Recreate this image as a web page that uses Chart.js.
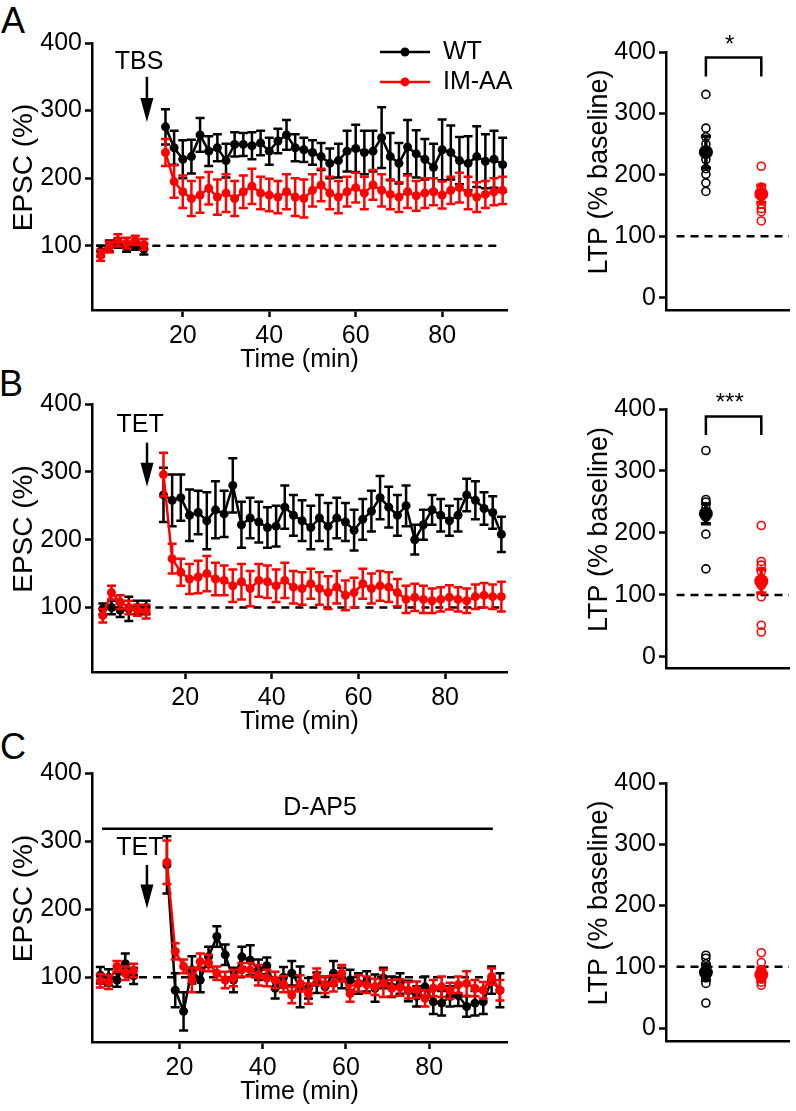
<!DOCTYPE html>
<html>
<head>
<meta charset="utf-8">
<title>EPSC / LTP</title>
<script src="https://cdn.jsdelivr.net/npm/chart.js@4.4.1/dist/chart.umd.min.js"></script>
<style>
  html, body { margin: 0; padding: 0; background: #fff; }
  body { position: relative; width: 796px; height: 1111px; overflow: hidden; }
  canvas { position: absolute; }
  .tag { position: absolute; font: 36px/1 "Liberation Sans", Arial, sans-serif; color: #000; }
</style>
</head>
<body>
<div class="tag" style="left:1px;top:3px">A</div>
<div class="tag" style="left:-1px;top:366px">B</div>
<div class="tag" style="left:0px;top:729px">C</div>
<canvas id="aTime"></canvas>
<canvas id="aLtp"></canvas>
<canvas id="bTime"></canvas>
<canvas id="bLtp"></canvas>
<canvas id="cTime"></canvas>
<canvas id="cLtp"></canvas>
<script>
// ---- values ----
const timeTicks = [20, 40, 60, 80];
const epscTicks = [100, 200, 300, 400];
const ltpTicks = [0, 100, 200, 300, 400];

// A - TBS
const timeA_base = [1, 3, 5, 7, 9, 11];
const timeA_post = [16, 18, 20, 22, 24, 26, 28, 30, 32, 34, 36, 38, 40, 42, 44, 46, 48, 50, 52, 54,
  56, 58, 60, 62, 64, 66, 68, 70, 72, 74, 76, 78, 80, 82, 84, 86, 88, 90, 92, 94];
const wtA_base = [92, 100, 104, 98, 100, 95];
const wtA_baseSem = [8, 8, 7, 7, 6, 8];
const imA_base = [86, 98, 108, 104, 108, 102];
const imA_baseSem = [8, 8, 9, 8, 7, 8];
const wtA_post = [276, 245, 228, 232, 264, 240, 245, 226, 250, 250, 248, 252, 240, 255, 264, 245, 242, 238, 232, 222,
  226, 240, 244, 238, 240, 260, 232, 222, 246, 236, 228, 216, 242, 238, 226, 222, 232, 225, 228, 220];
const wtA_postSem = [26, 25, 28, 25, 25, 22, 20, 25, 18, 17, 20, 18, 20, 18, 22, 20, 18, 18, 20, 22,
  25, 30, 35, 32, 30, 45, 35, 30, 40, 35, 30, 35, 45, 40, 35, 40, 45, 40, 42, 40];
const imA_post = [238, 195, 180, 170, 175, 185, 172, 178, 170, 180, 188, 178, 175, 172, 180, 172, 170, 182, 190, 178,
  172, 180, 186, 178, 190, 182, 176, 172, 180, 174, 178, 180, 175, 182, 186, 178, 172, 176, 180, 182];
const imA_postSem = [20, 24, 24, 26, 26, 24, 26, 28, 26, 24, 26, 24, 24, 24, 26, 28, 28, 24, 24, 24,
  24, 22, 22, 24, 22, 24, 22, 22, 24, 22, 22, 20, 20, 20, 22, 24, 22, 20, 20, 20];
const wtLtpA = [331, 276, 262, 250, 225, 210, 201, 187, 173];
const imLtpA = [214, 180, 172, 165, 152, 145, 140, 125];
const ltpMeanA = [237, 169];
const ltpSemA = [26, 14];

// B - TET
const timeB_base = [1, 3, 5, 7, 9, 11];
const timeB_post = [15, 17, 19, 21, 23, 25, 27, 29, 31, 33, 35, 37, 39, 41, 43, 45, 47, 49, 51, 53,
  55, 57, 59, 61, 63, 65, 67, 69, 71, 73, 75, 77, 79, 81, 83, 85, 87, 89, 91, 93];
const wtB_base = [98, 100, 96, 98, 100, 100];
const wtB_baseSem = [8, 10, 10, 18, 10, 10];
const imB_base = [88, 122, 108, 100, 96, 94];
const imB_baseSem = [10, 10, 10, 10, 8, 10];
const wtB_post = [266, 258, 262, 236, 240, 228, 244, 238, 280, 222, 232, 226, 218, 220, 248, 236, 228, 218, 232, 220,
  232, 226, 214, 230, 242, 262, 248, 236, 250, 200, 222, 244, 236, 228, 236, 266, 258, 246, 240, 208];
const wtB_postSem = [40, 38, 34, 38, 32, 42, 42, 34, 40, 34, 30, 30, 30, 30, 32, 30, 30, 32, 34, 34,
  30, 28, 30, 30, 30, 32, 30, 30, 30, 22, 22, 22, 24, 22, 24, 24, 28, 24, 24, 26];
const imB_post = [296, 172, 152, 142, 145, 150, 142, 140, 132, 138, 128, 140, 138, 132, 140, 130, 128, 135, 128, 122,
  130, 118, 122, 135, 128, 132, 130, 122, 112, 115, 112, 110, 112, 115, 112, 110, 116, 118, 116, 116];
const imB_postSem = [32, 22, 20, 22, 24, 26, 24, 22, 24, 26, 26, 24, 24, 24, 26, 24, 24, 22, 24, 24,
  24, 22, 22, 22, 22, 22, 22, 20, 20, 20, 20, 18, 18, 18, 18, 18, 18, 18, 18, 22];
const wtLtpB = [333, 254, 250, 240, 230, 225, 198, 142];
const imLtpB = [212, 154, 148, 138, 126, 115, 97, 51, 40];
const ltpMeanB = [231, 122];
const ltpSemB = [16, 19];

// C - TET in D-AP5
const timeC_base = [1, 3, 5, 7, 9];
const timeC_post = [17, 19, 21, 23, 25, 27, 29, 31, 33, 35, 37, 39, 41, 43, 45, 47, 49, 51, 53, 55,
  57, 59, 61, 63, 65, 67, 69, 71, 73, 75, 77, 79, 81, 83, 85, 87, 89, 91, 93, 95, 97];
const wtC_base = [103, 100, 96, 120, 102];
const wtC_baseSem = [12, 12, 10, 15, 12];
const imC_base = [95, 93, 116, 106, 110];
const imC_baseSem = [10, 10, 8, 10, 10];
const wtC_post = [265, 81, 50, 111, 96, 130, 160, 133, 96, 130, 125, 111, 117, 84, 100, 106, 86, 84, 92, 86,
  106, 99, 96, 91, 94, 84, 99, 86, 91, 80, 72, 86, 64, 62, 72, 73, 57, 62, 64, 96, 81];
const wtC_postSem = [42, 25, 28, 20, 18, 15, 15, 15, 18, 15, 22, 15, 12, 15, 15, 18, 30, 15, 15, 15,
  18, 15, 15, 15, 15, 20, 15, 15, 15, 15, 15, 15, 18, 18, 15, 15, 15, 18, 18, 20, 25];
const imC_post = [269, 138, 116, 96, 123, 121, 106, 96, 99, 111, 111, 103, 99, 96, 90, 74, 91, 76, 101, 89,
  91, 106, 76, 91, 89, 86, 91, 84, 85, 81, 82, 69, 84, 86, 80, 89, 91, 84, 81, 101, 81];
const imC_postSem = [32, 12, 10, 18, 12, 12, 10, 12, 12, 10, 10, 15, 12, 12, 12, 12, 12, 15, 12, 12,
  12, 12, 12, 12, 12, 12, 20, 12, 12, 12, 12, 12, 12, 15, 12, 12, 18, 12, 12, 12, 15];
const wtLtpC = [119, 114, 105, 98, 92, 88, 82, 73, 41];
const imLtpC = [123, 107, 95, 88, 80, 75, 70];
const ltpMeanC = [91, 87];
const ltpSemC = [13, 11];

// ---- drawing ----
const RED = 'rgb(255,0,0)';
const INK = '#000';
const FAMILY = '"Liberation Sans", Arial, Helvetica, sans-serif';
Chart.defaults.color = INK;
Chart.defaults.font.family = FAMILY;

function toPoints(xs, ys) { return xs.map((x, i) => ({ x: x, y: ys[i] })); }

function trace(color, xs, ys, sem, order) {
  return {
    data: toPoints(xs, ys), sem: sem, order: order,
    borderColor: color, backgroundColor: color, borderWidth: 2.5,
    pointRadius: 4.5, pointBorderWidth: 0, pointBackgroundColor: color,
    showLine: true, tension: 0, clip: false, errWidth: 2.5, capHalf: 4.5
  };
}

function cloud(color, x, ys) {
  return {
    data: ys.map(v => ({ x: x, y: v })), order: 2, showLine: false,
    pointRadius: 4, pointBorderWidth: 1.6, pointBorderColor: color,
    pointBackgroundColor: 'rgba(0,0,0,0)', borderColor: color, clip: false
  };
}

function meanDot(color, x, m, s) {
  return {
    data: [{ x: x, y: m }], sem: [s], order: 0, showLine: false,
    pointRadius: 7, pointBorderWidth: 0, pointBackgroundColor: color,
    borderColor: color, clip: false, errWidth: 3.5, capHalf: 5
  };
}

const marks = {
  id: 'marks',
  beforeDatasetsDraw(chart, args, o) {
    if (!o.dash) return;
    const { ctx, scales: { x, y } } = chart;
    const py = y.getPixelForValue(o.dash.y);
    ctx.save();
    ctx.strokeStyle = INK;
    ctx.lineWidth = 2.5;
    ctx.setLineDash([8, 6]);
    ctx.beginPath();
    ctx.moveTo(x.getPixelForValue(o.dash.from), py);
    ctx.lineTo(x.getPixelForValue(o.dash.to), py);
    ctx.stroke();
    ctx.restore();
  },
  beforeDatasetDraw(chart, args) {
    const ds = chart.data.datasets[args.index];
    if (!ds.sem) return;
    const { ctx, scales: { x, y } } = chart;
    ctx.save();
    ctx.strokeStyle = ds.borderColor;
    ctx.lineWidth = ds.errWidth;
    ctx.beginPath();
    ds.data.forEach((p, i) => {
      const px = x.getPixelForValue(p.x);
      const hi = y.getPixelForValue(p.y + ds.sem[i]);
      const lo = y.getPixelForValue(p.y - ds.sem[i]);
      ctx.moveTo(px, hi); ctx.lineTo(px, lo);
      ctx.moveTo(px - ds.capHalf, hi); ctx.lineTo(px + ds.capHalf, hi);
      ctx.moveTo(px - ds.capHalf, lo); ctx.lineTo(px + ds.capHalf, lo);
    });
    ctx.stroke();
    ctx.restore();
  },
  afterDraw(chart, args, o) {
    const { ctx, chartArea: area, scales: { x, y } } = chart;
    ctx.save();
    ctx.fillStyle = INK;
    ctx.strokeStyle = INK;
    if (o.yTitle) {
      ctx.save();
      ctx.translate(o.yTitle.x, (area.top + area.bottom) / 2 - 9);
      ctx.rotate(-Math.PI / 2);
      ctx.font = o.yTitle.size + 'px ' + FAMILY;
      ctx.textAlign = 'center';
      ctx.textBaseline = 'middle';
      ctx.fillText(o.yTitle.text, 0, 0);
      ctx.restore();
    }
    ctx.font = '25px ' + FAMILY;
    ctx.textAlign = 'center';
    ctx.textBaseline = 'middle';
    (o.notes || []).forEach(n => ctx.fillText(n.text, x.getPixelForValue(n.x), y.getPixelForValue(n.y)));
    ctx.lineWidth = 2.5;
    (o.arrows || []).forEach(a => {
      const px = x.getPixelForValue(a.x);
      const top = y.getPixelForValue(a.from);
      const tip = y.getPixelForValue(a.to);
      ctx.beginPath(); ctx.moveTo(px, top); ctx.lineTo(px, tip - 20); ctx.stroke();
      ctx.beginPath(); ctx.moveTo(px - 6.5, tip - 24); ctx.lineTo(px + 6.5, tip - 24); ctx.lineTo(px, tip);
      ctx.closePath(); ctx.fill();
    });
    (o.bars || []).forEach(b => {
      const py = y.getPixelForValue(b.y);
      ctx.beginPath(); ctx.moveTo(x.getPixelForValue(b.from), py); ctx.lineTo(x.getPixelForValue(b.to), py); ctx.stroke();
    });
    if (o.key) {
      const k = o.key;
      k.items.forEach(it => {
        const py = y.getPixelForValue(it.y);
        ctx.strokeStyle = it.color; ctx.fillStyle = it.color; ctx.lineWidth = 2.5;
        ctx.beginPath(); ctx.moveTo(x.getPixelForValue(k.x0), py); ctx.lineTo(x.getPixelForValue(k.x1), py); ctx.stroke();
        ctx.beginPath(); ctx.arc(x.getPixelForValue(k.dot), py, 4.5, 0, Math.PI * 2); ctx.fill();
        ctx.fillStyle = INK; ctx.textAlign = 'left';
        ctx.fillText(it.text, x.getPixelForValue(k.text), py);
      });
    }
    if (o.bracket) {
      const b = o.bracket;
      const x0 = x.getPixelForValue(1), x1 = x.getPixelForValue(2);
      const top = y.getPixelForValue(b.top), foot = y.getPixelForValue(b.foot);
      ctx.strokeStyle = INK; ctx.fillStyle = INK; ctx.lineWidth = 2.5;
      ctx.beginPath(); ctx.moveTo(x0, foot); ctx.lineTo(x0, top); ctx.lineTo(x1, top); ctx.lineTo(x1, foot); ctx.stroke();
      ctx.font = '24px ' + FAMILY; ctx.textAlign = 'center'; ctx.textBaseline = 'alphabetic';
      ctx.fillText(b.text, x.getPixelForValue(1.43), top - 6);
    }
    ctx.restore();
  }
};

function axisLine() {
  return { display: true, color: INK, width: 2.5 };
}
function tickMarks() {
  return { display: true, drawOnChartArea: false, drawTicks: true, tickLength: 7, tickWidth: 2.5, tickColor: INK };
}

function makeChart(id, box, area, xr, yr, yTicks, timeAxis, datasets, markOpts) {
  const cv = document.getElementById(id);
  cv.width = box.w; cv.height = box.h;
  cv.style.left = box.l + 'px'; cv.style.top = box.t + 'px';
  const xScale = {
    type: 'linear', min: xr[0], max: xr[1],
    border: axisLine(),
    afterFit: s => { s.height = box.t + box.h - area.b; }
  };
  if (timeAxis) {
    xScale.afterBuildTicks = s => { s.ticks = timeTicks.map(v => ({ value: v })); };
    xScale.grid = tickMarks();
    xScale.ticks = { font: { size: 25 }, padding: 4, maxRotation: 0, autoSkip: false };
    xScale.title = { display: true, text: 'Time (min)', font: { size: 25 }, padding: 0 };
  } else {
    xScale.grid = { display: false, drawTicks: false };
    xScale.ticks = { display: false };
  }
  new Chart(cv, {
    type: 'line',
    data: { datasets: datasets },
    options: {
      responsive: false, animation: false, events: [],
      layout: { padding: { left: 0, top: area.t - box.t, right: box.l + box.w - area.r, bottom: 0 } },
      plugins: { legend: { display: false }, tooltip: { enabled: false }, marks: markOpts },
      scales: {
        x: xScale,
        y: {
          type: 'linear', min: yr[0], max: yr[1],
          afterBuildTicks: s => { s.ticks = yTicks.map(v => ({ value: v })); },
          border: axisLine(), grid: tickMarks(),
          ticks: { font: { size: 25 }, padding: 3, autoSkip: false },
          afterFit: s => { s.width = area.l - box.l; }
        }
      }
    },
    plugins: [marks]
  });
}

// A
makeChart('aTime', { l: 0, t: 0, w: 515, h: 375 }, { l: 92, t: 43, r: 507, b: 310 }, [-1, 95], [5, 400], epscTicks, true, [
  trace(INK, timeA_base, wtA_base, wtA_baseSem, 2),
  trace(INK, timeA_post, wtA_post, wtA_postSem, 2),
  trace(RED, timeA_base, imA_base, imA_baseSem, 1),
  trace(RED, timeA_post, imA_post, imA_postSem, 1)
], {
  dash: { y: 100, from: 0, to: 93 },
  yTitle: { text: 'EPSC (%)', x: 24, size: 28 },
  notes: [{ text: 'TBS', x: 9.9, y: 372 }],
  arrows: [{ x: 11.7, from: 350, to: 283 }],
  key: { x0: 65.6, x1: 77.2, dot: 71.4, text: 80.2, items: [
    { text: 'WT', color: INK, y: 386.7 },
    { text: 'IM-AA', color: RED, y: 342.4 }
  ] }
});
makeChart('aLtp', { l: 560, t: 0, w: 236, h: 345 }, { l: 666, t: 52, r: 795, b: 310 }, [0.28, 2.5], [-20, 400], ltpTicks, false, [
  cloud(INK, 1, wtLtpA), cloud(RED, 2, imLtpA),
  meanDot(INK, 1, ltpMeanA[0], ltpSemA[0]), meanDot(RED, 2, ltpMeanA[1], ltpSemA[1])
], {
  dash: { y: 100, from: 0.47, to: 2.5 },
  yTitle: { text: 'LTP (% baseline)', x: 40, size: 27 },
  bracket: { top: 391, foot: 360, text: '*' }
});

// B
makeChart('bTime', { l: 0, t: 365, w: 515, h: 372 }, { l: 92, t: 404, r: 507, b: 672 }, [-1.5, 94.3], [5, 400], epscTicks, true, [
  trace(INK, timeB_base, wtB_base, wtB_baseSem, 2),
  trace(INK, timeB_post, wtB_post, wtB_postSem, 2),
  trace(RED, timeB_base, imB_base, imB_baseSem, 1),
  trace(RED, timeB_post, imB_post, imB_postSem, 1)
], {
  dash: { y: 100, from: 0.2, to: 93.8 },
  yTitle: { text: 'EPSC (%)', x: 24, size: 28 },
  notes: [{ text: 'TET', x: 9.6, y: 369 }],
  arrows: [{ x: 11.2, from: 343, to: 278 }]
});
makeChart('bLtp', { l: 560, t: 365, w: 236, h: 338 }, { l: 666, t: 409, r: 795, b: 668 }, [0.28, 2.5], [-18, 400], ltpTicks, false, [
  cloud(INK, 1, wtLtpB), cloud(RED, 2, imLtpB),
  meanDot(INK, 1, ltpMeanB[0], ltpSemB[0]), meanDot(RED, 2, ltpMeanB[1], ltpSemB[1])
], {
  dash: { y: 100, from: 0.47, to: 2.5 },
  yTitle: { text: 'LTP (% baseline)', x: 40, size: 27 },
  bracket: { top: 388, foot: 358, text: '***' }
});

// C
makeChart('cTime', { l: 0, t: 730, w: 515, h: 377 }, { l: 92, t: 773, r: 507, b: 1042 }, [-1, 98.7], [5, 400], epscTicks, true, [
  trace(INK, timeC_base, wtC_base, wtC_baseSem, 2),
  trace(INK, timeC_post, wtC_post, wtC_postSem, 2),
  trace(RED, timeC_base, imC_base, imC_baseSem, 1),
  trace(RED, timeC_post, imC_post, imC_postSem, 1)
], {
  dash: { y: 100, from: 0.2, to: 95.3 },
  yTitle: { text: 'EPSC (%)', x: 24, size: 28 },
  notes: [{ text: 'TET', x: 10.5, y: 290 }, { text: 'D-AP5', x: 53.8, y: 349 }],
  arrows: [{ x: 12.2, from: 265, to: 201 }],
  bars: [{ y: 318, from: 1.4, to: 95.3 }]
});
makeChart('cLtp', { l: 560, t: 730, w: 236, h: 346 }, { l: 666, t: 783, r: 795, b: 1041 }, [0.28, 2.5], [-21, 400], ltpTicks, false, [
  cloud(INK, 1, wtLtpC), cloud(RED, 2, imLtpC),
  meanDot(INK, 1, ltpMeanC[0], ltpSemC[0]), meanDot(RED, 2, ltpMeanC[1], ltpSemC[1])
], {
  dash: { y: 100, from: 0.47, to: 2.5 },
  yTitle: { text: 'LTP (% baseline)', x: 40, size: 27 }
});
</script>
</body>
</html>
